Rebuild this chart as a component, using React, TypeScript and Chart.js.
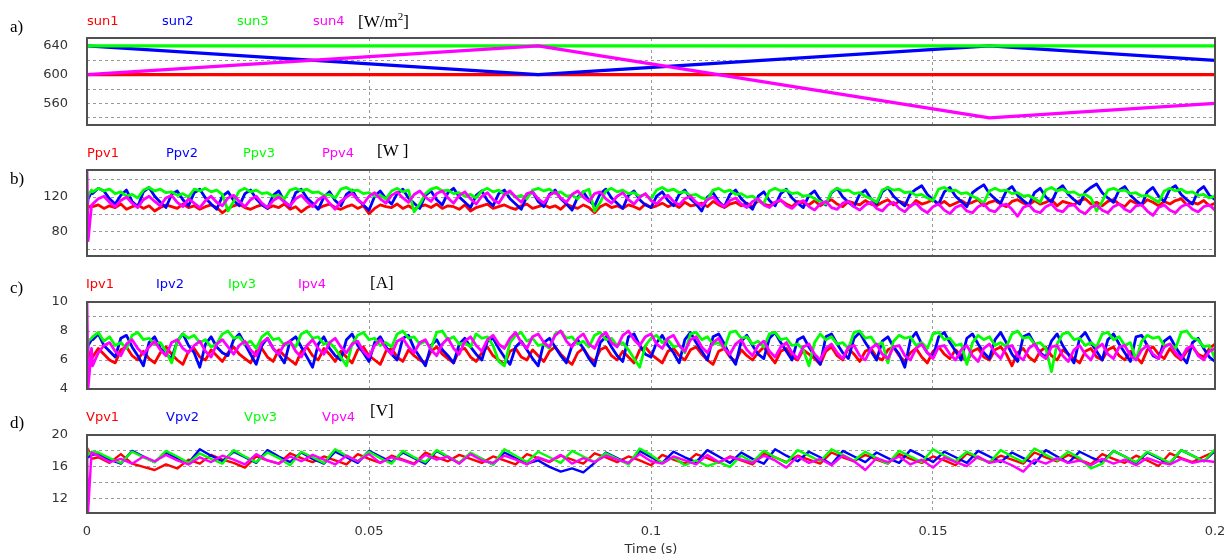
import React, { useEffect, useRef } from "react";
import { Chart, registerables } from "chart.js";

Chart.register(...registerables);

// ---------- axis / tick data ----------
const X_MIN = 0;
const X_MAX = 0.2;
const X_TICKS = [0, 0.05, 0.1, 0.15, 0.2];

// ---------- a) irradiance ----------
const SUN_T = [0, 0.08, 0.16, 0.2];
const SUN1 = [600, 600, 600, 600];
const SUN2 = [640, 600, 640, 620];
const SUN3 = [640, 640, 640, 640];
const SUN4 = [600, 640, 540, 560];

// ---------- sampling grid for b) c) d) : 3 start-up samples, then evenly spaced ----------
const START_T = [0, 0.0002, 0.0008];
function sampleTimes(len: number): number[] {
  const n = len - START_T.length;
  const step = X_MAX / n;
  return Array.from({ length: len }, (_, j) => (j < START_T.length ? START_T[j] : (j - START_T.length + 1) * step));
}

// ---------- b) power [W] ----------
const PPV1 = [100, 108, 110,
  109,111,107,110,108,112,106,109,111,107,110,104,108,111,109,107,112,108,110,106,
  109,111,108,102,107,110,112,108,106,109,111,107,110,108,112,106,109,103,108,111,
  107,110,112,108,106,109,111,107,110,101,107,111,109,108,112,107,110,106,109,111,
  108,112,107,110,109,106,111,104,108,110,112,107,109,111,108,106,110,112,107,109,
  111,108,110,106,112,109,107,111,108,102,109,112,108,110,107,111,109,106,112,108,
  110,113,109,112,108,114,110,111,113,109,115,111,108,112,114,110,113,109,116,112,
  110,114,116,112,109,115,113,111,116,110,114,117,112,109,115,113,111,116,112,110,
  114,117,111,115,113,109,116,112,114,117,111,115,110,113,116,112,114,117,110,114,
  116,112,109,115,117,113,111,116,112,114,117,110,115,113,111,116,118,112,114,110,
  115,117,112,109,116,113,111,117,114,110,115,112,116,118,111,114,112,116,110,113];
const PPV2 = [105, 118, 126,
  124,130,127,118,112,122,128,115,109,126,131,121,114,108,123,127,117,110,125,129,
  119,112,106,121,126,116,110,124,128,118,111,107,122,127,115,109,125,129,119,113,
  106,120,126,116,110,123,128,117,111,105,121,127,118,112,124,129,119,113,107,122,
  127,117,111,125,130,120,114,108,122,127,116,110,124,128,118,112,106,121,126,115,
  109,123,128,118,112,105,120,126,116,110,124,129,119,113,107,122,127,117,111,108,
  121,126,116,110,123,128,118,112,104,120,125,115,109,123,128,118,112,106,121,126,
  116,110,124,129,119,113,108,122,127,117,111,125,130,120,114,109,123,128,118,112,
  126,131,121,115,110,124,129,133,123,117,112,126,131,121,115,109,125,130,134,124,
  118,113,127,132,122,116,111,125,130,120,114,128,133,123,117,112,126,131,135,125,
  119,114,128,132,122,116,111,126,131,121,115,129,133,123,117,112,127,132,122,117];
const PPV3 = [110, 122, 128,
  126,130,127,129,124,126,121,123,119,128,131,127,129,125,126,122,124,120,129,127,
  130,126,128,123,104,115,127,130,126,128,124,125,121,122,118,128,130,127,129,125,
  126,122,123,119,129,131,127,128,124,125,121,122,118,127,130,126,128,103,112,124,
  129,131,127,128,124,125,121,123,119,127,130,126,128,123,125,120,122,118,128,130,
  127,129,124,126,121,122,118,126,129,104,114,127,130,126,128,124,125,121,123,118,
  128,131,127,129,125,126,122,123,119,117,128,130,126,128,123,124,120,121,116,113,
  127,130,127,128,124,125,121,122,118,115,112,126,130,127,128,124,125,121,118,114,
  128,131,128,129,125,126,122,123,119,116,129,131,127,128,124,125,121,118,113,127,
  130,127,128,124,125,121,122,118,114,128,131,127,129,125,126,122,123,119,104,115,
  128,130,127,128,124,125,121,122,118,114,127,130,127,129,125,126,122,123,119,121];
const PPV4 = [150, 70, 110,
  112,118,121,114,109,116,120,113,108,117,121,115,110,119,122,114,109,118,113,108,
  116,121,114,110,119,122,115,109,117,121,113,108,116,120,114,110,118,122,115,109,
  117,121,113,106,115,120,124,117,112,121,125,118,113,122,126,119,114,123,127,120,
  115,124,127,119,113,122,126,118,112,121,125,117,113,123,127,120,114,124,126,118,
  113,122,126,119,114,123,127,120,115,124,126,118,113,121,125,117,112,120,124,116,
  112,119,122,115,111,118,121,114,110,117,120,113,109,116,119,112,108,115,118,111,
  108,114,117,110,107,113,116,109,105,112,115,108,106,113,115,109,105,111,114,107,
  104,111,114,107,103,110,113,106,102,109,112,105,101,108,111,104,102,109,112,105,
  103,110,112,106,98,108,111,104,102,109,112,105,103,110,111,104,101,108,111,105,
  102,109,112,106,103,110,111,104,99,108,111,105,102,109,112,106,103,109,111,105];

// ---------- c) current [A] ----------
const IPV1 = [5.0, 6.6, 6.1,
  6.2,6.8,6.4,6.0,5.8,6.7,6.9,6.3,6.0,6.6,6.1,5.8,6.5,6.9,6.4,6.0,5.7,6.6,6.8,6.2,
  6.0,6.7,6.3,5.9,6.5,6.9,6.4,6.1,5.8,6.6,6.8,6.2,5.9,6.7,6.3,6.0,5.7,6.6,6.9,6.3,
  6.0,6.8,6.4,5.9,6.6,6.2,5.8,6.7,6.9,6.3,6.0,5.7,6.6,6.8,6.2,5.9,6.7,6.3,6.0,5.8,
  6.6,6.9,6.4,6.1,5.8,6.7,6.8,6.2,5.9,6.5,6.9,6.3,6.0,5.7,6.6,6.8,6.2,6.0,6.7,6.3,
  5.9,6.6,6.9,6.4,6.0,5.7,6.5,6.8,6.2,5.9,6.7,6.9,6.3,6.0,6.6,6.2,5.8,6.7,6.9,6.4,
  6.1,5.8,6.6,6.8,6.3,6.0,6.7,6.9,6.4,6.0,5.7,6.6,6.8,6.2,5.9,6.7,6.3,6.0,6.5,6.9,
  6.3,5.8,6.6,6.8,6.2,6.0,6.7,6.4,6.1,5.7,6.6,6.9,6.3,6.0,6.8,6.4,5.9,6.6,6.8,6.2,
  6.0,6.7,6.9,6.3,5.9,6.5,6.8,6.2,5.8,6.6,6.9,6.4,6.1,6.7,6.3,5.9,6.6,6.8,6.2,6.0,
  6.7,6.9,6.4,5.6,6.5,6.8,6.2,5.9,6.6,6.9,6.3,6.0,6.7,6.4,6.1,5.8,6.6,6.8,6.2,6.0,
  6.7,6.9,6.3,6.0,6.6,6.2,5.8,6.7,6.9,6.4,6.1,6.8,6.3,6.0,6.6,6.9,6.4,6.2,6.8,7.1];
const IPV2 = [5.2, 7.0, 7.4,
  7.4,7.8,7.0,6.6,6.2,7.5,7.7,6.9,6.3,5.6,7.2,7.6,6.8,6.4,6.1,7.3,7.8,7.0,6.5,5.5,
  7.1,7.6,6.9,6.5,6.3,7.4,7.8,7.1,6.4,5.7,7.0,7.5,6.8,6.4,5.8,7.3,7.6,6.9,6.2,5.5,
  7.1,7.6,6.8,6.3,6.0,7.4,7.8,7.0,6.5,5.9,7.2,7.6,6.9,6.4,6.0,7.5,7.7,6.8,6.2,5.6,
  7.0,7.4,6.7,6.3,5.8,7.1,7.5,6.9,6.4,6.0,7.3,7.5,6.8,6.2,5.7,6.9,7.3,6.7,6.1,5.6,
  7.2,7.5,6.9,6.3,5.8,7.0,7.4,6.8,6.1,5.6,7.2,7.6,6.9,6.3,5.9,7.6,7.8,7.0,6.4,6.2,
  7.2,7.7,7.0,6.5,5.8,7.4,7.9,7.2,6.6,6.0,7.6,7.8,7.1,6.3,5.7,7.3,7.7,7.0,6.4,6.1,
  7.5,7.9,7.2,6.6,6.0,7.4,7.6,6.9,6.3,5.7,7.6,7.8,7.1,6.5,6.1,7.5,7.9,7.2,6.6,6.0,
  7.3,7.6,6.9,6.4,5.5,7.4,7.9,7.1,6.5,6.2,7.6,7.9,7.2,6.6,6.0,7.5,7.8,7.1,6.5,6.1,
  7.4,7.9,7.2,6.4,5.9,7.6,7.8,7.1,6.5,6.2,7.3,7.8,7.0,6.4,5.8,7.5,7.9,7.2,6.6,6.0,
  7.4,7.8,7.1,6.5,5.9,7.6,7.7,7.0,6.3,6.1,7.3,7.6,6.9,6.3,5.8,7.2,7.5,6.8,6.2,5.9];
const IPV3 = [4.3, 7.3, 7.5,
  7.6,7.9,7.3,7.6,7.0,7.2,6.8,7.7,7.9,7.4,7.5,7.1,7.2,6.6,5.8,7.3,7.8,7.5,7.7,7.2,
  7.4,6.9,7.1,7.8,8.0,7.5,7.6,7.1,7.3,6.8,7.6,7.9,7.4,7.5,7.0,7.2,6.9,7.8,8.0,7.5,
  7.6,7.1,7.2,6.8,6.2,5.6,7.1,7.7,7.9,7.4,7.5,7.0,7.2,6.9,7.8,8.0,7.5,7.6,7.1,7.3,
  6.8,7.9,8.0,7.4,7.6,7.1,7.2,6.9,7.8,7.5,7.6,7.0,5.9,5.6,7.2,7.7,7.9,7.3,7.5,7.0,
  7.1,6.8,7.8,8.0,7.5,7.6,7.1,7.3,6.9,7.7,7.9,7.4,7.5,7.0,7.2,6.7,6.1,5.5,7.0,7.5,
  7.7,7.2,7.4,6.9,7.0,6.5,7.8,7.9,7.4,7.6,7.1,7.2,6.8,7.9,8.0,7.5,7.6,7.1,7.3,6.9,
  7.8,7.9,7.4,7.5,7.0,7.1,6.7,5.6,7.2,7.8,7.4,7.6,7.1,7.2,6.8,7.9,8.0,7.5,7.6,7.0,
  7.2,5.8,7.3,7.7,7.5,7.6,7.0,7.2,6.8,7.8,7.9,7.4,7.5,7.0,7.1,5.7,7.2,7.7,7.4,7.6,
  7.0,7.2,6.9,7.8,8.0,7.5,7.6,7.1,7.2,6.8,5.2,7.1,7.8,7.9,7.4,7.5,7.0,7.2,6.9,7.8,
  7.9,7.4,7.6,7.0,7.2,6.0,7.3,7.7,7.5,7.6,7.0,7.1,6.8,7.9,8.0,7.5,7.4,6.9,7.0,6.1];
const IPV4 = [10, 4.1, 6.8,
  5.6,6.5,7.0,7.2,6.6,6.3,7.1,7.4,6.8,6.4,6.9,7.3,6.7,6.3,7.2,7.4,6.8,6.5,7.0,7.3,
  6.6,6.2,7.1,7.4,6.9,6.4,7.0,7.3,6.7,6.3,7.2,7.5,6.8,6.4,7.1,7.3,6.6,6.2,7.0,7.4,
  6.8,6.4,7.2,7.5,6.9,6.5,7.1,7.3,6.6,6.2,7.0,7.4,6.8,6.4,7.3,7.5,6.9,6.5,7.2,7.4,
  6.7,6.3,7.1,7.5,6.8,6.4,7.3,7.6,7.0,6.6,7.4,7.7,7.1,6.8,7.5,7.9,7.2,6.8,7.6,7.8,
  7.2,6.9,7.7,8.0,7.3,6.9,7.5,7.8,7.1,6.8,7.6,7.9,7.2,6.9,7.7,8.0,7.4,7.0,7.6,7.8,
  7.1,6.8,7.5,7.7,7.0,6.6,7.4,7.6,6.9,6.5,7.2,7.5,6.8,6.4,7.1,7.4,6.7,6.3,7.0,7.3,
  6.6,6.2,6.9,7.2,6.5,6.1,6.9,7.1,6.4,6.0,6.8,7.1,6.5,6.1,6.9,7.0,6.3,6.0,6.8,7.1,
  6.4,6.1,6.9,7.0,6.3,6.0,6.8,7.1,6.5,6.1,6.9,7.0,6.4,6.0,6.7,7.0,6.3,5.9,6.8,7.1,
  6.5,6.1,6.9,7.0,6.3,6.0,6.8,7.1,6.4,6.1,6.9,7.0,6.3,5.9,6.7,7.0,6.4,6.0,6.8,7.1,
  6.4,6.1,6.9,7.0,6.3,6.0,6.7,7.0,6.4,6.1,6.9,7.1,6.5,6.1,6.8,7.0,6.3,6.0,6.6,6.8];

// ---------- d) voltage [V] ----------
const VPV1 = [17.5, 18.2, 17.0,
  17.2,16.5,17.6,16.4,16.0,15.6,16.3,15.8,16.9,16.4,
  17.5,16.9,16.5,15.9,17.3,16.8,16.4,17.7,17.1,16.6,
  17.3,16.8,16.3,17.6,17.0,16.5,17.4,16.9,16.4,17.8,
  17.2,16.7,17.5,17.0,16.5,17.3,16.8,16.3,17.6,17.1,
  16.6,17.4,16.9,16.4,17.7,17.2,16.6,17.3,16.8,16.2,
  17.5,16.9,16.4,17.6,17.1,16.5,17.3,16.8,16.3,17.7,
  17.2,16.6,17.4,16.9,16.4,17.8,17.2,16.7,17.5,16.9,
  16.4,17.6,17.0,16.5,17.3,16.8,16.2,17.7,17.1,16.6,
  17.4,16.9,16.4,17.8,17.2,16.7,17.5,16.9,16.3,17.6,
  17.0,16.5,17.4,16.8,16.1,17.7,17.1,16.6,17.3,17.9];
const VPV2 = [17.8, 17.2, 17.5,
  17.6,16.9,16.4,18.0,17.3,16.6,17.8,17.1,16.5,18.2,
  17.4,16.7,17.9,17.2,16.5,18.1,17.3,16.6,17.8,17.0,
  16.4,17.9,17.2,16.5,18.0,17.3,16.6,17.8,17.1,16.4,
  18.0,17.2,16.5,17.7,17.0,16.3,17.8,17.1,16.4,16.8,
  16.0,15.4,15.8,15.3,16.5,17.8,17.1,16.4,18.0,17.2,
  16.5,17.9,17.2,16.6,18.1,17.3,16.5,17.8,17.0,16.4,
  18.2,17.4,16.7,17.9,17.2,16.3,18.0,17.3,16.6,17.8,
  17.1,16.5,18.1,17.4,16.6,17.9,17.2,16.5,18.0,17.3,
  16.6,17.8,17.1,16.4,18.1,17.3,16.5,17.9,17.2,16.6,
  18.0,17.3,16.5,17.8,17.1,16.4,18.1,17.4,16.7,18.0];
const VPV3 = [18.3, 17.5, 17.9,
  17.8,17.1,16.5,17.9,17.2,16.6,18.0,17.3,16.5,17.7,
  17.0,16.4,18.1,17.3,16.6,17.8,17.1,16.2,17.9,17.2,
  16.5,18.2,17.4,16.7,17.9,17.1,16.4,18.0,17.2,16.6,
  18.1,17.3,16.5,17.8,17.0,16.3,18.2,17.4,16.6,17.9,
  17.2,16.5,18.0,17.3,16.6,17.7,17.0,16.3,18.3,17.5,
  16.5,17.2,16.2,16.8,16.1,16.6,16.0,17.4,16.6,18.0,
  17.2,16.5,18.1,17.4,16.7,18.2,17.5,16.8,17.9,17.1,
  16.4,18.0,17.3,16.6,18.2,17.4,16.7,17.9,17.2,16.5,
  18.1,17.3,16.6,18.3,17.5,16.8,17.9,17.1,15.8,16.4,
  18.0,17.3,16.6,17.9,17.2,16.5,18.1,17.4,16.7,18.2];
const VPV4 = [18.5, 10.4, 17.8,
  17.4,16.6,17.0,16.4,17.3,16.7,17.5,16.8,16.3,17.2,
  16.6,17.4,16.9,16.3,17.6,16.8,16.4,17.3,16.7,17.5,
  16.9,16.3,17.4,16.7,17.6,16.5,17.2,16.8,16.3,17.5,
  16.9,17.3,16.4,17.6,16.8,16.5,17.4,16.9,16.3,17.2,
  16.7,17.5,16.4,17.1,16.6,17.4,16.9,16.5,17.6,16.7,
  16.4,17.3,16.8,16.3,17.5,16.6,17.2,16.9,16.5,17.4,
  16.8,15.9,17.3,16.5,17.0,16.2,17.4,16.7,15.6,17.1,
  16.6,17.3,16.3,16.9,15.9,17.2,16.6,16.1,17.3,16.5,
  16.8,16.2,15.4,16.9,16.4,17.1,16.5,16.8,16.2,17.0,
  16.4,16.9,16.2,17.1,16.6,16.3,17.0,16.5,16.8,16.6];

// ---------- styling ----------
const COLORS = ["#ff0000", "#0000ff", "#00ff00", "#ff00ff"];
const DRAW_ORDER = [3, 2, 1, 0];
const GRID_COLOR = "#9a9a9a";
const TEXT_COLOR = "#333333";
const SANS = "'DejaVu Sans', sans-serif";
const SERIF = "'Liberation Serif', 'Times New Roman', serif";

type Series = { name: string; t: number[]; v: number[] };
type PanelDef = {
  id: string;
  canvasTop: number;
  canvasHeight: number;
  showX: boolean;
  yMin: number;
  yMax: number;
  yGrid: number[];
  yLabels: number[];
  lineWidth: number;
  series: Series[];
  letter: string;
  letterY: number;
  legendY: number;
  legendX: number[];
  unit: React.ReactNode;
  unitX: number;
  unitY: number;
};

const sampled = (name: string, v: number[]): Series => ({ name, t: sampleTimes(v.length), v });

const PANELS: PanelDef[] = [
  {
    id: "a", canvasTop: 28, canvasHeight: 107, showX: false,
    yMin: 530, yMax: 651, yGrid: [540, 560, 580, 600, 620, 640], yLabels: [560, 600, 640],
    lineWidth: 3.2,
    series: [
      { name: "sun1", t: SUN_T, v: SUN1 },
      { name: "sun2", t: SUN_T, v: SUN2 },
      { name: "sun3", t: SUN_T, v: SUN3 },
      { name: "sun4", t: SUN_T, v: SUN4 },
    ],
    letter: "a)", letterY: 27, legendY: 21, legendX: [87, 162, 237, 313],
    unit: <span>[W/m<sup style={{ fontSize: "0.65em" }}>2</sup>]</span>, unitX: 358, unitY: 21,
  },
  {
    id: "b", canvasTop: 160, canvasHeight: 106, showX: false,
    yMin: 52.5, yMax: 151, yGrid: [60, 80, 100, 120, 140], yLabels: [80, 120],
    lineWidth: 2.8,
    series: [sampled("Ppv1", PPV1), sampled("Ppv2", PPV2), sampled("Ppv3", PPV3), sampled("Ppv4", PPV4)],
    letter: "b)", letterY: 179, legendY: 153, legendX: [87, 166, 243, 322],
    unit: <span>[W ]</span>, unitX: 377, unitY: 151,
  },
  {
    id: "c", canvasTop: 292, canvasHeight: 107, showX: false,
    yMin: 4, yMax: 10, yGrid: [4, 5, 6, 7, 8, 9, 10], yLabels: [4, 6, 8, 10],
    lineWidth: 2.8,
    series: [sampled("Ipv1", IPV1), sampled("Ipv2", IPV2), sampled("Ipv3", IPV3), sampled("Ipv4", IPV4)],
    letter: "c)", letterY: 288, legendY: 284, legendX: [86, 156, 228, 298],
    unit: <span>[A]</span>, unitX: 370, unitY: 283,
  },
  {
    id: "d", canvasTop: 425, canvasHeight: 133, showX: true,
    yMin: 10.2, yMax: 20, yGrid: [12, 14, 16, 18, 20], yLabels: [12, 16, 20],
    lineWidth: 2.4,
    series: [sampled("Vpv1", VPV1), sampled("Vpv2", VPV2), sampled("Vpv3", VPV3), sampled("Vpv4", VPV4)],
    letter: "d)", letterY: 423, legendY: 417, legendX: [86, 166, 244, 322],
    unit: <span>[V]</span>, unitX: 370, unitY: 411,
  },
];

const boxPlugin = {
  id: "plotBox",
  afterDraw(chart: any) {
    const { ctx, chartArea: a } = chart;
    ctx.save();
    ctx.strokeStyle = "#505050";
    ctx.lineWidth = 2;
    ctx.strokeRect(a.left, a.top, a.right - a.left, a.bottom - a.top);
    ctx.restore();
  },
};

function PanelChart({ p }: { p: PanelDef }) {
  const ref = useRef<HTMLCanvasElement>(null);
  useEffect(() => {
    const canvas = ref.current;
    if (!canvas) return;
    const chart = new Chart(canvas, {
      type: "line",
      data: {
        datasets: p.series.map((s, i) => ({
          label: s.name,
          data: s.t.map((x, j) => ({ x, y: s.v[j] })),
          borderColor: COLORS[i],
          backgroundColor: COLORS[i],
          borderWidth: p.lineWidth,
          borderJoinStyle: "round" as const,
          pointRadius: 0,
          tension: 0,
          fill: false,
          order: DRAW_ORDER[i],
        })),
      },
      options: {
        responsive: false,
        animation: false,
        events: [],
        layout: { padding: { left: 0, right: 17, top: 10, bottom: p.showX ? 0 : 10 } },
        plugins: { legend: { display: false }, tooltip: { enabled: false } },
        scales: {
          x: {
            type: "linear",
            min: X_MIN,
            max: X_MAX,
            afterBuildTicks: (s: any) => {
              s.ticks = X_TICKS.map((v) => ({ value: v }));
            },
            afterFit: (s: any) => {
              s.height = p.showX ? 45 : 0;
              s.paddingLeft = 0;
              s.paddingRight = 0;
            },
            ticks: {
              display: p.showX,
              autoSkip: false,
              maxRotation: 0,
              padding: 11,
              color: TEXT_COLOR,
              font: { family: SANS, size: 13 },
              callback: (v: any) => String(Number(Number(v).toFixed(2))),
            },
            grid: { color: GRID_COLOR, lineWidth: 1, drawTicks: false },
            border: { display: false, dash: [3, 3] },
            title: {
              display: p.showX,
              text: "Time (s)",
              color: TEXT_COLOR,
              font: { family: SANS, size: 13 },
              padding: { top: 0, bottom: 1 },
            },
          },
          y: {
            type: "linear",
            min: p.yMin,
            max: p.yMax,
            afterBuildTicks: (s: any) => {
              s.ticks = p.yGrid.map((v) => ({ value: v }));
            },
            afterFit: (s: any) => {
              s.width = 87;
              s.paddingTop = 0;
              s.paddingBottom = 0;
            },
            ticks: {
              autoSkip: false,
              padding: 19,
              color: TEXT_COLOR,
              font: { family: SANS, size: 13 },
              callback: (v: any) => (p.yLabels.includes(Number(v)) ? String(v) : ""),
            },
            grid: { color: GRID_COLOR, lineWidth: 1, drawTicks: false },
            border: { display: false, dash: [3, 3] },
          },
        },
      },
      plugins: [boxPlugin],
    });
    return () => chart.destroy();
  }, [p]);
  return (
    <canvas
      ref={ref}
      width={1232}
      height={p.canvasHeight}
      style={{ position: "absolute", left: 0, top: p.canvasTop, width: 1232, height: p.canvasHeight }}
    />
  );
}

function Label({ x, y, color, family, size, children }: any) {
  return (
    <div
      style={{
        position: "absolute",
        left: x,
        top: y,
        transform: "translateY(-50%)",
        color,
        fontFamily: family,
        fontSize: size,
        lineHeight: 1.2,
        whiteSpace: "nowrap",
      }}
    >
      {children}
    </div>
  );
}

export default function App() {
  return (
    <div style={{ position: "absolute", left: 0, top: 0, width: 1232, height: 558, background: "#fff", overflow: "hidden" }}>
      {PANELS.map((p) => (
        <React.Fragment key={p.id}>
          <PanelChart p={p} />
          <Label x={10} y={p.letterY} color="#000" family={SERIF} size={17}>{p.letter}</Label>
          {p.series.map((s, i) => (
            <Label key={s.name} x={p.legendX[i]} y={p.legendY} color={COLORS[i]} family={SANS} size={13}>{s.name}</Label>
          ))}
          <Label x={p.unitX} y={p.unitY} color="#000" family={SERIF} size={17}>{p.unit}</Label>
        </React.Fragment>
      ))}
    </div>
  );
}
